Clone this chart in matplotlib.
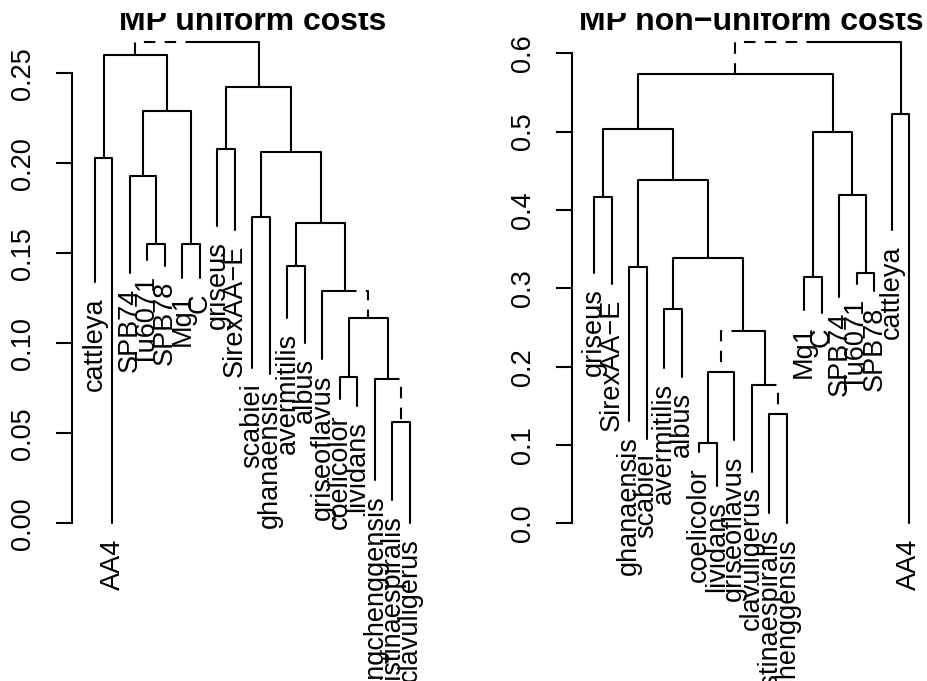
import matplotlib
matplotlib.use('Agg')
import matplotlib.pyplot as plt
from matplotlib.transforms import Bbox, TransformedBbox

plt.rcParams['font.family'] = ['Liberation Sans', 'DejaVu Sans']

# ---- MP uniform costs ----
uni_leaves = ['cattleya', 'AA4', 'SPB74', 'Tu6071', 'SPB78', 'Mg1', 'C',
              'griseus', 'SirexAA\u2212E', 'scabiei', 'ghanaensis', 'avermitilis',
              'albus', 'griseoflavus', 'coelicolor', 'lividans',
              'bingchenggensis', 'pristinaespiralis', 'clavuligerus']
uni_leaf_h = [0.134, 0.0, 0.139, 0.146, 0.143, 0.136, 0.136,
              0.165, 0.163, 0.086, 0.083, 0.114,
              0.100, 0.091, 0.069, 0.065,
              0.024, 0.013, 0.0]
# (node, left child, right child, height)
uni_nodes = [('ca', 'cattleya', 'AA4', 0.203),
             ('tus', 'Tu6071', 'SPB78', 0.155),
             ('spb', 'SPB74', 'tus', 0.193),
             ('mgc', 'Mg1', 'C', 0.155),
             ('a2', 'spb', 'mgc', 0.229),
             ('a', 'ca', 'a2', 0.260),
             ('gs', 'griseus', 'SirexAA\u2212E', 0.208),
             ('sg', 'scabiei', 'ghanaensis', 0.170),
             ('aa', 'avermitilis', 'albus', 0.143),
             ('cl', 'coelicolor', 'lividans', 0.081),
             ('pc', 'pristinaespiralis', 'clavuligerus', 0.056),
             ('bpc', 'bingchenggensis', 'pc', 0.080),
             ('c1', 'cl', 'bpc', 0.114),
             ('gc', 'griseoflavus', 'c1', 0.129),
             ('b2b', 'aa', 'gc', 0.167),
             ('b2', 'sg', 'b2b', 0.2065),
             ('b', 'gs', 'b2', 0.2425),
             ('root', 'a', 'b', 0.2675)]
uni_dashed = ['a', 'c1', 'pc']
uni_ticks = [0.0, 0.05, 0.10, 0.15, 0.20, 0.25]

# ---- MP non-uniform costs ----
non_leaves = ['griseus', 'SirexAA\u2212E', 'ghanaensis', 'scabiei', 'avermitilis',
              'albus', 'coelicolor', 'lividans', 'griseoflavus', 'clavuligerus',
              'pristinaespiralis', 'bingchenggensis', 'Mg1', 'C', 'SPB74',
              'Tu6071', 'SPB78', 'cattleya', 'AA4']
non_leaf_h = [0.319, 0.306, 0.130, 0.108, 0.198,
              0.187, 0.091, 0.047, 0.106, 0.066,
              0.013, 0.0, 0.272, 0.269, 0.289,
              0.306, 0.296, 0.374, 0.0]
non_nodes = [('gs', 'griseus', 'SirexAA\u2212E', 0.417),
             ('gsc', 'ghanaensis', 'scabiei', 0.327),
             ('aa', 'avermitilis', 'albus', 0.273),
             ('cl', 'coelicolor', 'lividans', 0.103),
             ('m1', 'cl', 'griseoflavus', 0.193),
             ('pb', 'pristinaespiralis', 'bingchenggensis', 0.139),
             ('m2', 'clavuligerus', 'pb', 0.177),
             ('l1b2b', 'm1', 'm2', 0.2455),
             ('l1b2', 'aa', 'l1b2b', 0.339),
             ('l1b', 'gsc', 'l1b2', 0.438),
             ('l1', 'gs', 'l1b', 0.504),
             ('mgc', 'Mg1', 'C', 0.315),
             ('tus', 'Tu6071', 'SPB78', 0.320),
             ('l2b', 'SPB74', 'tus', 0.419),
             ('l2', 'mgc', 'l2b', 0.499),
             ('L', 'l1', 'l2', 0.5735),
             ('ca', 'cattleya', 'AA4', 0.5225),
             ('root', 'L', 'ca', 0.6145)]
non_dashed = ['L', 'm1', 'pb']
non_ticks = [0.0, 0.1, 0.2, 0.3, 0.4, 0.5, 0.6]

W, H = 928, 681
fig = plt.figure(figsize=(W / 100, H / 100), dpi=100)


def draw_tree(ax, leaves, leaf_h, nodes, dashed):
    xpos = {n: i + 1 for i, n in enumerate(leaves)}
    hpos = dict(zip(leaves, leaf_h))
    kids = {}
    for name, l, r, h in nodes:
        kids[name] = (l, r)
        hpos[name] = h

    def xof(n):
        if n not in xpos:
            l, r = kids[n]
            xpos[n] = (xof(l) + xof(r)) / 2
        return xpos[n]

    for name in kids:
        xof(name)
    for name, (l, r) in kids.items():
        for c in (l, r):
            ls = (0, (5.5, 4.5)) if c in dashed else '-'
            ax.plot([xpos[name], xpos[c], xpos[c]], [hpos[name], hpos[name], hpos[c]],
                    color='black', lw=1.5, ls=ls, clip_on=False,
                    solid_capstyle='round')
    for n in leaves:
        ax.annotate(n, (xpos[n], hpos[n]), xytext=(0, -15), textcoords='offset pixels',
                    rotation=90, ha='center', va='top', fontsize=19.5)


def panel(x0, first_leaf, step, zero_px, scale, leaves, leaf_h, nodes, dashed,
          ticks, fmt, title):
    y0, y1 = 30, 540
    x1 = x0 + 2 * (first_leaf - x0) + (len(leaves) - 1) * step
    ax = fig.add_axes([x0 / W, 1 - y1 / H, (x1 - x0) / W, (y1 - y0) / H])
    ax.set_xlim(1 - (first_leaf - x0) / step, 1 + (x1 - first_leaf) / step)
    ax.set_ylim((zero_px - y1) / scale, (zero_px - y0) / scale)
    ax.patch.set_visible(False)
    for s in ['top', 'right', 'bottom']:
        ax.spines[s].set_visible(False)
    ax.spines['left'].set_bounds(ticks[0], ticks[-1])
    ax.spines['left'].set_linewidth(1.5)
    ax.set_xticks([])
    ax.set_yticks(ticks)
    ax.set_yticklabels([fmt % t for t in ticks])
    ax.tick_params(axis='y', length=11.5, width=1.5, pad=14, labelsize=19.5,
                   labelrotation=90)
    for lab in ax.get_yticklabels():
        lab.set_va('center')
    draw_tree(ax, leaves, leaf_h, nodes, dashed)
    t = fig.text((x0 + x1) / 2 / W, 1 - 30 / H, title, ha='center', va='baseline',
                 fontsize=23, fontweight='bold')
    t.set_clip_box(TransformedBbox(Bbox([[0, 0], [1, 1 - 13 / H]]), fig.transFigure))
    t.set_clip_on(True)
    return ax


panel(71.7, 95, 17.5, 523.3, 1800, uni_leaves, uni_leaf_h, uni_nodes, uni_dashed,
      uni_ticks, '%.2f', 'MP uniform costs')
panel(571.7, 594, 17.52, 523.3, 783.3, non_leaves, non_leaf_h, non_nodes, non_dashed,
      non_ticks, '%.1f', 'MP non\u2212uniform costs')

fig.savefig('out.png', dpi=100)
